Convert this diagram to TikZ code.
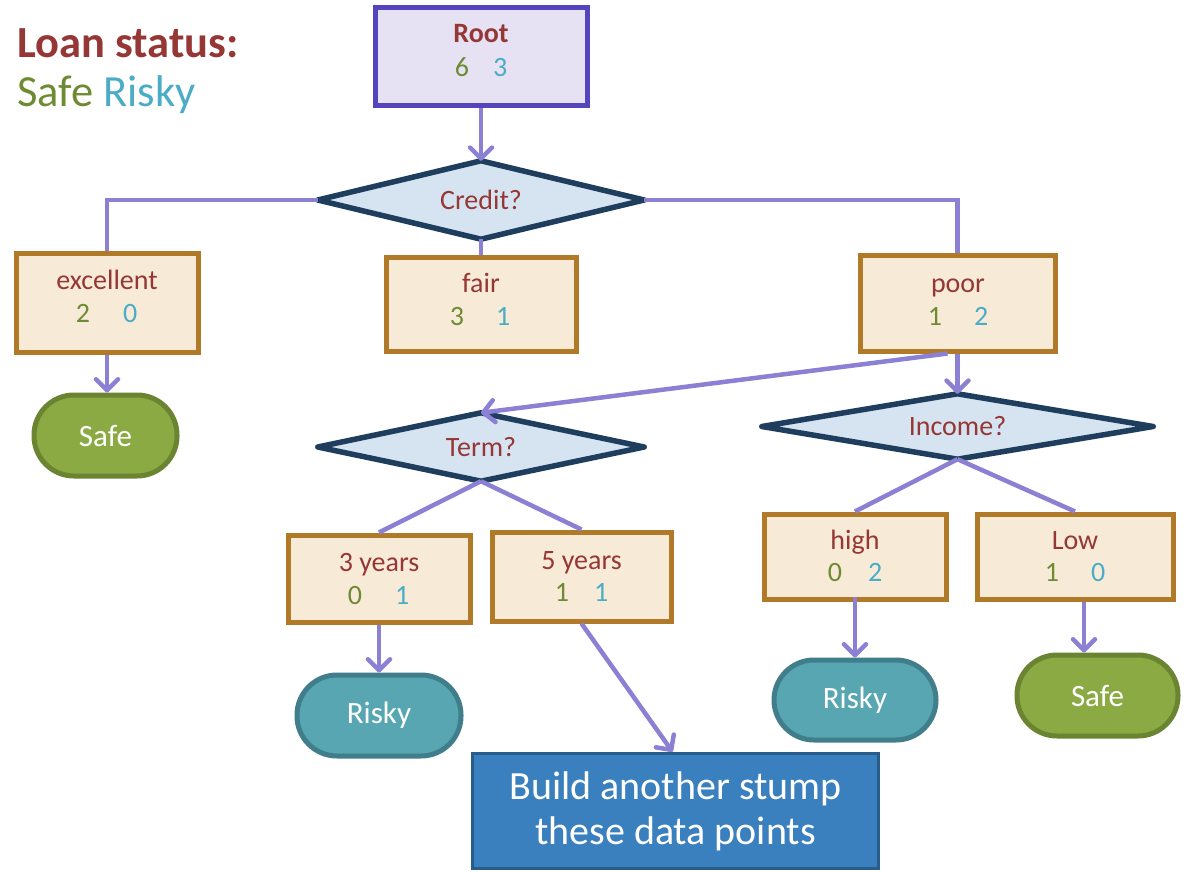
\documentclass[tikz,border=0pt]{standalone}
\usepackage{fontspec}
\setmainfont{Carlito}
\usetikzlibrary{arrows.meta}
\definecolor{titlered}{HTML}{953735}
\definecolor{safeg}{HTML}{6E8B33}
\definecolor{riskc}{HTML}{4BACC6}
\definecolor{linkc}{HTML}{8C80D4}
\definecolor{rootfill}{HTML}{E6E2F4}
\definecolor{rootedge}{HTML}{5444BE}
\definecolor{dmfill}{HTML}{D6E4F2}
\definecolor{dmedge}{HTML}{1F3E5E}
\definecolor{boxfill}{HTML}{F7EBD8}
\definecolor{boxedge}{HTML}{B07A28}
\definecolor{safefill}{HTML}{8BAA43}
\definecolor{safeedge}{HTML}{6A8431}
\definecolor{riskfill}{HTML}{58A6B1}
\definecolor{riskedge}{HTML}{3F7E8A}
\definecolor{buildfill}{HTML}{3A80BE}
\definecolor{buildedge}{HTML}{285C8A}
\begin{document}
\begin{tikzpicture}[x=1pt,y=-1pt,
  valbox/.style={draw=boxedge,fill=boxfill,line width=5pt,inner sep=0pt},
  qframe/.style={inner sep=0pt},
  qshape/.style={draw=dmedge,fill=dmfill,line width=5.5pt,line join=round},
  qtext/.style={text=titlered,font=\fontsize{28}{32}\selectfont,inner sep=0pt},
  lbl/.style={text=titlered,font=\fontsize{28}{32}\selectfont,inner sep=0pt,text height=18pt,text depth=5pt},
  cnt/.style={font=\fontsize{28}{32}\selectfont,inner sep=0pt,text height=18pt,text depth=5pt},
  terminal/.style={rounded corners=40pt,line width=5pt,inner sep=0pt,text=white,
    font=\fontsize{31}{36}\selectfont},
  safeleaf/.style={terminal,draw=safeedge,fill=safefill},
  riskleaf/.style={terminal,draw=riskedge,fill=riskfill},
  conn/.style={draw=linkc,line width=4.5pt},
  arr/.style={conn,-{Straight Barb[round,length=11pt,width=22pt]}}
]
\useasboundingbox (0,0) rectangle (1186,872);

% legend
\node[anchor=west,inner sep=0pt,text=titlered,font=\fontsize{44.5}{50}\selectfont\bfseries] (legtitle) at (17,43) {Loan status:};
\node[anchor=west,inner sep=0pt,font=\fontsize{44.5}{50}\selectfont] (legkeys) at (17,95) {\color{safeg}Safe \color{riskc}Risky};

% root
\node[draw=rootedge,fill=rootfill,line width=5pt,minimum width=212pt,minimum height=98pt] (root) at (481,57) {};
\node[lbl,font=\fontsize{28}{32}\selectfont\bfseries] (rootl) at (481,36) {Root};
\node[cnt] (rootn) at (481,70) {\color{safeg}6\hspace{24pt}\color{riskc}3};

% decision diamonds: a frame node for the anchors, the rhombus, then the question
\node[qframe,minimum width=326pt,minimum height=78pt] (credit) at (481,200) {};
\draw[qshape] (credit.north) -- (credit.east) -- (credit.south) -- (credit.west) -- cycle;
\node[qtext] (creditl) at (credit.center) {Credit?};

\node[qframe,minimum width=326pt,minimum height=68pt] (term) at (481,447) {};
\draw[qshape] (term.north) -- (term.east) -- (term.south) -- (term.west) -- cycle;
\node[qtext] (terml) at (term.center) {Term?};

\node[qframe,minimum width=391pt,minimum height=65pt] (income) at (957.5,426.5) {};
\draw[qshape] (income.north) -- (income.east) -- (income.south) -- (income.west) -- cycle;
\node[qtext] (incomel) at (income.center) {Income?};

% value boxes
\node[valbox,minimum width=182pt,minimum height=99pt] (exc) at (107,302.5) {};
\node[lbl] (excl) at (107,283) {excellent};
\node[cnt] (excn) at (106.5,316) {\color{safeg}2\hspace{33pt}\color{riskc}0};

\node[valbox,minimum width=190pt,minimum height=94pt] (fair) at (481,304) {};
\node[lbl] (fairl) at (481,286) {fair};
\node[cnt] (fairn) at (480,319) {\color{safeg}3\hspace{32pt}\color{riskc}1};

\node[valbox,minimum width=195pt,minimum height=96pt] (poor) at (957.5,303) {};
\node[lbl] (poorl) at (958,286) {poor};
\node[cnt] (poorn) at (958,319) {\color{safeg}1\hspace{32pt}\color{riskc}2};

\node[valbox,minimum width=182pt,minimum height=87pt] (y3) at (379,578.5) {};
\node[lbl] (y3l) at (379,565) {3 years};
\node[cnt] (y3n) at (378.5,598) {\color{safeg}0\hspace{33pt}\color{riskc}1};

\node[valbox,minimum width=179pt,minimum height=89pt] (y5) at (581.5,576.5) {};
\node[lbl] (y5l) at (581.5,563) {5 years};
\node[cnt] (y5n) at (581.5,595) {\color{safeg}1\hspace{25pt}\color{riskc}1};

\node[valbox,minimum width=182pt,minimum height=85pt] (high) at (855,556.5) {};
\node[lbl] (highl) at (855,543) {high};
\node[cnt] (highn) at (855,575) {\color{safeg}0\hspace{26pt}\color{riskc}2};

\node[valbox,minimum width=196pt,minimum height=85pt] (low) at (1075,556.5) {};
\node[lbl] (lowl) at (1075,543) {Low};
\node[cnt] (lown) at (1075,575) {\color{safeg}1\hspace{32pt}\color{riskc}0};

% leaves
\node[safeleaf,minimum width=143pt,minimum height=81pt] (safe1) at (105.5,435.5) {Safe};
\node[riskleaf,minimum width=164pt,minimum height=81pt] (risky1) at (379,715.5) {Risky};
\node[riskleaf,minimum width=162pt,minimum height=80pt] (risky2) at (855,700) {Risky};
\node[safeleaf,minimum width=161pt,minimum height=81pt] (safe2) at (1097.5,695.5) {Safe};

\node[draw=buildedge,fill=buildfill,line width=3.5pt,minimum width=406pt,minimum height=115pt,
  text=white,align=center,font=\fontsize{40}{45}\selectfont] (build) at (675.5,811)
  {Build another stump\\these data points};

% connectors
\draw[arr] (root.south) -- (credit.north);
\draw[conn] (credit.west) -| (exc.north);
\draw[conn] (credit.east) -| (poor.north);
\draw[conn] (credit.south) -- (fair.north);
\draw[arr] (exc.south) -- (safe1.north -| exc.south);
\draw[arr] (poor.south) -- (income.north);
\draw[arr] ([xshift=-10pt]poor.south) -- (term.north);
\draw[conn] (income.south) -- (high.north);
\draw[conn] (income.south) -- (low.north);
\draw[arr] ([yshift=5pt]high.south) -- (risky2.north);
\draw[arr] ([xshift=9pt]low.south) -- ([xshift=9pt]low.south |- safe2.north);
\draw[conn] (term.south) -- (y3.north);
\draw[conn] (term.south) -- (y5.north);
\draw[arr] (y3.south) -- (risky1.north);
\draw[arr] (y5.south) -- ([xshift=-3pt]build.north);
\end{tikzpicture}
\end{document}
